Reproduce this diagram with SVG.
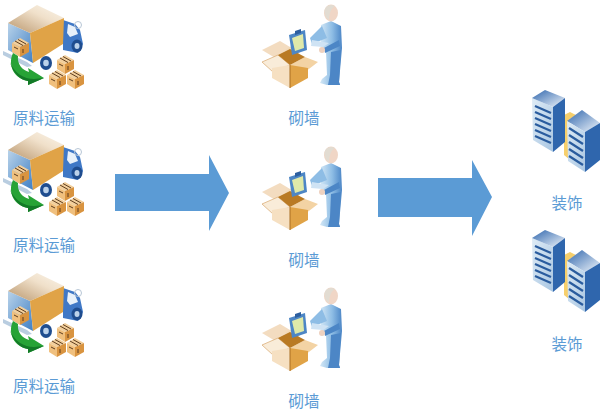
<svg xmlns="http://www.w3.org/2000/svg" width="606" height="418" viewBox="0 0 606 418">
<style>
text{font-family:"Noto Sans CJK SC","Liberation Sans",sans-serif;font-size:15.5px;fill:#5b9bd5;text-anchor:middle}
.arrow{fill:#5b9bd5}
</style>
<defs>
<linearGradient id="boxTop" x1="0" y1="1" x2="1" y2="0"><stop offset="0" stop-color="#b9966c"/><stop offset=".6" stop-color="#f0e0ca"/><stop offset="1" stop-color="#fbf6ec"/></linearGradient>
<linearGradient id="blueFace" x1="0" y1="0" x2="1" y2="1"><stop offset="0" stop-color="#b9d3ea"/><stop offset="1" stop-color="#3f7fc4"/></linearGradient>
<linearGradient id="body" x1="0" y1="0" x2="1" y2="0"><stop offset="0" stop-color="#d4e8f6"/><stop offset=".55" stop-color="#8ebde5"/><stop offset="1" stop-color="#4c86c6"/></linearGradient>
<linearGradient id="rack" x1="0" y1="0" x2="1" y2="1"><stop offset="0" stop-color="#dfecf6"/><stop offset="1" stop-color="#a9c6e2"/></linearGradient>
<linearGradient id="rackTop" x1="0" y1="0" x2="1" y2="1"><stop offset="0" stop-color="#2f66ad"/><stop offset="1" stop-color="#f1f6fb"/></linearGradient>
<g id="crate">
<path d="M0 5 8 0 17 5 8 9Z" fill="#f2cf9c"/>
<path d="M0 5 8 9V19L0 14Z" fill="#f0c07e"/>
<path d="M17 5 8 9V19L17 14Z" fill="#d99440"/>
<path d="M3 3 11 7.500M6 1.500 14 6M2 9 6 11M11 11V15" stroke="#5e3d1e" stroke-width="1" fill="none"/>
</g>
<g id="truck">
<path d="M3 51 27 62 32 66 27 67 3 55Z" fill="#b9cde0"/>
<path d="M63 20 75 24 80 30 83 44 78 53 63 50Z" fill="#3f78c6"/>
<path d="M68 24 75 27 78 34 70 37 67 33Z" fill="#e8f1fa"/>
<circle cx="78" cy="25" r="3.500" fill="none" stroke="#b7c6d6" stroke-width="1"/>
<ellipse cx="77" cy="46" rx="5.500" ry="6.500" fill="#1f4d8f"/><ellipse cx="77" cy="46" rx="2.500" ry="3" fill="#bcd2ea"/>
<path d="M8 23 30 33 33 63 8 50Z" fill="url(#blueFace)"/>
<path d="M8 23 37 5 64 18 30 33Z" fill="url(#boxTop)"/>
<path d="M30 33 64 18 63 44 33 63Z" fill="#e0a347"/>
<ellipse cx="46" cy="63" rx="6" ry="7" fill="#1f4d8f"/><ellipse cx="46" cy="63" rx="2.800" ry="3.300" fill="#bcd2ea"/>
<use href="#crate" x="12" y="38"/>
<path d="M13 53 18 56C17 64 22 70 29 72L28 68 44 78 28 85 28 81C15 79 7 66 13 53Z" fill="#27a336"/>
<path d="M10 62C13 73 20 80 28 81L28 85 44 78 34 79C24 79 14 73 10 62Z" fill="#137a27"/>
<use href="#crate" x="57" y="55"/>
<use href="#crate" x="49" y="70"/>
<use href="#crate" x="67" y="70"/>
</g>
<g id="worker">
<path d="M7 50 25 41 40 50 22 59Z" fill="#f3dcc0"/>
<path d="M40 44 48 48 42 56 30 50Z" fill="#f1d9b8"/>
<path d="M7 62 23 55 35 65 18 72Z" fill="#f9ecd9" stroke="#dcb07c" stroke-width=".8"/>
<path d="M35 65 50 57 63 62 50 72Z" fill="#f3d3a4"/>
<path d="M23 55 35 49 50 57 35 65Z" fill="#b97a24"/>
<path d="M17 68 35 65 35 88 17 78Z" fill="#f6e0c2"/>
<path d="M35 65 53 68 53 78 35 88Z" fill="#e0a347"/>
<path d="M35 65V88" stroke="#a96f22" stroke-width="1"/>
<path d="M34 35 50 30 52 50 37 55Z" fill="#4d86c5"/>
<path d="M37 38 48 34 49 48 40 51Z" fill="#dfe9a9"/>
<path d="M40 31 46 29 46 33 40 35Z" fill="#2d5f9f"/>
<path d="M66 25 76 21 86 26 87 48 84 82 85 85 72 85 65 83 67 79 72 75 71 52 66 46Z" fill="url(#body)"/>
<path d="M76 52 86 50 84 82 85 85 73 85 75 75Z" fill="#4c86c6"/>
<path d="M67 26 55 38 57 44 72 38Z" fill="#8ebde5"/>
<path d="M57 40 74 43 68 47 56 46Z" fill="#cfe3f4"/>
<path d="M69 48 84 40 85 46 70 53Z" fill="#4c86c6"/>
<circle cx="67" cy="50" r="3" fill="#eed2c0"/>
<ellipse cx="76" cy="13" rx="7" ry="8.500" fill="#f0d6c6"/>
<path d="M70 14C68 7 74 3 80 6 76 8 74 14 74 20 72 19 70 17 70 14Z" fill="#e2dcd2"/>
</g>
<g id="server">
<path d="M44 30 50 27 56 30 50 34V75L44 70Z" fill="#f6cf6c"/>
<path d="M12 13 33 22 33 67 13 55Z" fill="url(#rack)"/>
<path d="M12 13 25 5 45 13 33 22Z" fill="url(#rackTop)"/>
<path d="M33 22 45 13 45 57 33 67Z" fill="#2f66ad"/>
<path d="M15 21 31 28M15 27 31 34M15 33 31 40M15 39 31 46M15 45 31 52M15 51 31 58" stroke="#2a5c9e" stroke-width="2.200" fill="none"/>
<path d="M47 36 62 25 80 38 65 47Z" fill="url(#rackTop)"/>
<path d="M47 36 65 47 65 87 48 76Z" fill="url(#rack)"/>
<path d="M65 47 80 38 80 75 65 87Z" fill="#2f66ad"/>
<path d="M49 43 63 52M49 50 63 59M49 57 63 66M49 64 63 73M49 71 63 80" stroke="#2a5c9e" stroke-width="2.200" fill="none"/>
</g>
</defs>
<g id="connectors">
<path class="arrow" d="M115 174H209V155L229 193 209 231V211H115Z"/>
<path class="arrow" d="M378 178H472V160L492 197 472 236V217H378Z"/>
</g>
<g id="node-truck-1"><use href="#truck"/><text x="44" y="124">原料运输</text></g>
<g id="node-truck-2"><use href="#truck" y="127"/><text x="44" y="251">原料运输</text></g>
<g id="node-truck-3"><use href="#truck" y="268"/><text x="44" y="392">原料运输</text></g>
<g id="node-worker-1"><use href="#worker" x="255"/><text x="304" y="124">砌墙</text></g>
<g id="node-worker-2"><use href="#worker" x="255" y="142"/><text x="304" y="266">砌墙</text></g>
<g id="node-worker-3"><use href="#worker" x="255" y="283"/><text x="304" y="407">砌墙</text></g>
<g id="node-server-1"><use href="#server" x="520" y="85"/><text x="567" y="209">装饰</text></g>
<g id="node-server-2"><use href="#server" x="520" y="225"/><text x="567" y="350">装饰</text></g>
</svg>
